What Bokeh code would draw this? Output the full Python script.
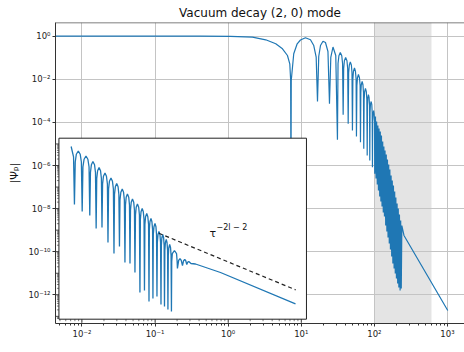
from bokeh.plotting import figure
from bokeh.models import Range1d, FixedTicker, CustomJSTickFormatter, BoxAnnotation, Span, Label
from bokeh.core.properties import value
from bokeh.embed import file_html
from bokeh.resources import INLINE

# ---- data, stored as log10 values ----
main_log10_tau = [
    -2.40, -0.379, 0.031, 0.332, 0.514, 0.651, 0.743, 0.811, 0.843, 0.855, 0.859, 0.863,
    0.897, 0.944, 0.989, 1.057, 1.126, 1.171, 1.204, 1.222,
    1.239, 1.263, 1.297, 1.331, 1.365, 1.386,
    1.404, 1.434, 1.472, 1.495,
    1.503, 1.515, 1.534, 1.554, 1.565, 1.573,
    1.580, 1.590, 1.607, 1.625, 1.635, 1.642,
    1.648, 1.657, 1.671, 1.686, 1.694, 1.700,
    1.706, 1.714, 1.728, 1.741, 1.750, 1.755,
    1.761, 1.769, 1.782, 1.796, 1.805, 1.810,
    1.815, 1.821, 1.833, 1.844, 1.851, 1.855,
    1.860, 1.867, 1.878, 1.890, 1.897, 1.902,
    1.906, 1.911, 1.919, 1.928, 1.934, 1.937,
    1.941, 1.946, 1.956, 1.965, 1.970, 1.974,
    1.977, 1.982, 1.990, 1.997, 2.002, 2.005,
    2.015,
    2.023, 2.031, 2.040, 2.048, 2.056, 2.064, 2.073, 2.081, 2.089, 2.097, 2.105, 2.114,
    2.122, 2.130, 2.138, 2.146, 2.155, 2.163, 2.171, 2.179, 2.187, 2.196, 2.204, 2.212,
    2.220, 2.229, 2.237, 2.245, 2.253, 2.261, 2.270, 2.278, 2.286, 2.294, 2.302, 2.311,
    2.319, 2.327, 2.335, 2.343, 2.352, 2.360, 2.368, 2.376,
    2.405, 3.004]
main_log10_psi = [
    0.0, 0.0, -0.005, -0.046, -0.167, -0.353, -0.585, -0.896, -1.281, -2.056, -7.624, -2.056,
    -0.817, -0.353, -0.176, -0.074, -0.167, -0.432, -0.974, -3.030,
    -0.942, -0.432, -0.232, -0.292, -0.710, -3.137,
    -0.988, -0.501, -0.896, -4.807,
    -1.266, -0.906, -0.756, -0.906, -1.266, -3.647,
    -1.498, -1.138, -0.988, -1.138, -1.498, -4.065,
    -1.707, -1.347, -1.197, -1.347, -1.707, -4.376,
    -1.986, -1.626, -1.476, -1.626, -1.986, -4.654,
    -2.287, -1.927, -1.777, -1.927, -2.287, -4.919,
    -2.612, -2.252, -2.102, -2.252, -2.612, -5.225,
    -2.937, -2.577, -2.427, -2.577, -2.937, -5.536,
    -3.215, -2.855, -2.705, -2.855, -3.215, -5.768,
    -3.540, -3.180, -3.030, -3.180, -3.540, -6.079,
    -3.958, -3.598, -3.448, -3.598, -3.958, -6.385,
    -3.726,
    -6.603, -3.958, -6.882, -4.144, -7.160, -4.283, -7.439, -4.422, -7.671, -4.608, -7.903, -4.886,
    -8.181, -5.118, -8.367, -5.304, -8.784, -5.490, -9.063, -5.722, -9.341, -5.954, -9.619, -6.186,
    -9.898, -6.464, -10.223, -6.696, -10.548, -6.928, -10.780, -7.206, -11.012, -7.485, -11.244, -7.763,
    -11.476, -7.995, -11.661, -8.274, -11.800, -8.552, -11.708, -8.784,
    -9.248, -12.728]

inset_log10_tau = [
    -2.148, -2.115, -2.103,
    -2.092, -2.077, -2.050, -2.024, -2.008, -1.997,
    -1.987, -1.971, -1.945, -1.919, -1.903, -1.893,
    -1.884, -1.871, -1.850, -1.828, -1.815, -1.806,
    -1.798, -1.786, -1.766, -1.746, -1.734, -1.726,
    -1.718, -1.706, -1.685, -1.665, -1.652, -1.644,
    -1.636, -1.624, -1.603, -1.583, -1.570, -1.562,
    -1.555, -1.543, -1.525, -1.506, -1.495, -1.487,
    -1.480, -1.468, -1.449, -1.431, -1.420, -1.412,
    -1.405, -1.395, -1.378, -1.360, -1.350, -1.343,
    -1.336, -1.326, -1.309, -1.292, -1.282, -1.275,
    -1.268, -1.258, -1.241, -1.224, -1.214, -1.207,
    -1.201, -1.192, -1.176, -1.161, -1.151, -1.145,
    -1.139, -1.130, -1.114, -1.099, -1.089, -1.083,
    -1.078, -1.070, -1.056, -1.043, -1.034, -1.029,
    -1.024, -1.015, -1.001, -0.988, -0.980, -0.974,
    -0.969, -0.960, -0.947, -0.933, -0.925, -0.919,
    -0.914, -0.907, -0.895, -0.883, -0.876, -0.871,
    -0.866, -0.859, -0.847, -0.836, -0.829, -0.824,
    -0.819, -0.812, -0.800, -0.788, -0.781, -0.776,
    -0.772, -0.764, -0.735, -0.706, -0.698, -0.694,
    -0.677, -0.659, -0.642, -0.625, -0.610, -0.594, -0.580, -0.566, -0.552, -0.539,
    -0.509, -0.447, -0.105, 0.921]
inset_log10_psi = [
    -5.118, -5.600, -7.810,
    -5.837, -5.477, -5.327, -5.477, -5.837, -8.135,
    -6.069, -5.709, -5.559, -5.709, -6.069, -8.320,
    -6.324, -5.964, -5.814, -5.964, -6.324, -8.923,
    -6.603, -6.243, -6.093, -6.243, -6.603, -8.877,
    -6.858, -6.498, -6.348, -6.498, -6.858, -9.573,
    -7.090, -6.730, -6.580, -6.730, -7.090, -10.084,
    -7.345, -6.985, -6.835, -6.985, -7.345, -9.759,
    -7.600, -7.240, -7.090, -7.240, -7.600, -10.501,
    -7.833, -7.473, -7.323, -7.473, -7.833, -10.548,
    -8.065, -7.705, -7.555, -7.705, -8.065, -10.965,
    -8.297, -7.937, -7.787, -7.937, -8.297, -11.893,
    -8.505, -8.145, -7.995, -8.145, -8.505, -11.800,
    -8.737, -8.377, -8.227, -8.377, -8.737, -12.311,
    -8.969, -8.609, -8.459, -8.609, -8.969, -12.172,
    -9.201, -8.841, -8.691, -8.841, -9.201, -12.079,
    -9.573, -9.213, -9.063, -9.213, -9.573, -12.450,
    -9.712, -9.352, -9.202, -9.352, -9.712, -12.543,
    -9.944, -9.584, -9.434, -9.584, -9.944, -12.682,
    -10.176, -9.816, -9.666, -9.816, -10.176, -12.775,
    -10.454, -10.094, -9.944, -10.094, -10.454, -10.780,
    -10.400, -10.316, -10.400, -10.640, -10.420, -10.362, -10.420, -10.594, -10.480, -10.455,
    -10.548, -10.571, -10.965, -12.418]

power_law_log10_tau = [-0.949, 0.923]
power_law_log10_psi = [-9.142, -11.77]

shade_tau = [100, 604]
x_ticks = [1e-2, 1e-1, 1e0, 1e1, 1e2, 1e3]
y_ticks = [1e-12, 1e-10, 1e-8, 1e-6, 1e-4, 1e-2, 1e0]

# inset axes box (data coordinates)
inset_tau = [0.00484, 11.78]
inset_psi = [7.38e-14, 1.85e-5]

FONT = "DejaVu Sans"
BLUE = "#1f77b4"
INK = "#222222"

def pw(v):
    return [10 ** a for a in v]

x_lo, x_hi = 4.345e-3, 1710.0
y_lo, y_hi = 4.66e-14, 4.325

p = figure(width=464, height=352, x_axis_type="log", y_axis_type="log",
           x_range=Range1d(x_lo, x_hi), y_range=Range1d(y_lo, y_hi),
           output_backend="svg", toolbar_location=None,
           min_border_left=55, min_border_right=0, min_border_top=22, min_border_bottom=29,
           title="Vacuum decay (2, 0) mode")
p.outline_line_color = None
p.background_fill_color = "white"
p.border_fill_color = "white"

p.title.text_font = FONT
p.title.text_font_size = "12px"
p.title.text_font_style = "normal"
p.title.align = "center"
p.title.text_color = "#111111"
p.title.standoff = 5

fmt = CustomJSTickFormatter(code="""
const e = Math.round(Math.log10(tick));
const sup = {'-':'\u207b','0':'\u2070','1':'\u00b9','2':'\u00b2','3':'\u00b3','4':'\u2074','5':'\u2075','6':'\u2076','7':'\u2077','8':'\u2078','9':'\u2079'};
return '10' + String(e).split('').map(c => sup[c]).join('');
""")

minor_x = [k * 10.0 ** e for e in range(-3, 4) for k in range(2, 10)]
p.xaxis.ticker = FixedTicker(ticks=x_ticks, minor_ticks=minor_x)
p.yaxis.ticker = FixedTicker(ticks=y_ticks, minor_ticks=[])
p.xgrid.ticker = FixedTicker(ticks=x_ticks)
p.ygrid.ticker = FixedTicker(ticks=y_ticks)
for ax in (p.xaxis, p.yaxis):
    ax.formatter = fmt
    ax.major_label_text_font = FONT
    ax.major_label_text_font_size = "8.5px"
    ax.major_label_text_color = INK
    ax.axis_line_color = "#333333"
    ax.axis_line_width = 1
    ax.major_tick_line_color = "#333333"
    ax.minor_tick_line_color = "#333333"
    ax.major_tick_out = 3
    ax.major_tick_in = 0
    ax.minor_tick_out = 2
    ax.minor_tick_in = 0
    ax.major_label_standoff = 2
    ax.axis_label_text_font = FONT
    ax.axis_label_text_font_style = "normal"
    ax.axis_label_text_color = "#111111"
p.yaxis.axis_label = "|Ψₚ|"
p.yaxis.axis_label_text_font_size = "11px"
p.yaxis.axis_label_standoff = 4

for g in (p.xgrid, p.ygrid):
    g.grid_line_color = "#c4c4c4"
    g.grid_line_width = 1

p.add_layout(BoxAnnotation(left=shade_tau[0], right=shade_tau[1], fill_color="#e4e4e4",
                           fill_alpha=1.0, line_color=None, level="image"))
p.add_layout(Span(location=y_hi, dimension="width", line_color="#555555", line_width=1.3))

# main curve
p.line(pw(main_log10_tau), pw(main_log10_psi), line_color=BLUE, line_width=1.2)

# inset box
p.quad(left=[inset_tau[0]], right=[inset_tau[1]], bottom=[inset_psi[0]], top=[inset_psi[1]],
       fill_color="white", line_color=INK, line_width=1)

# inset tick marks (no labels), left and bottom sides
fx_major = 10 ** (3.5 / 73.1)
fx_minor = 10 ** (2.0 / 73.1)
fy_major = 10 ** (3.5 / 21.55)
fy_minor = 10 ** (2.0 / 21.55)
ly_major = [10.0 ** e for e in range(-13, -4)]
ly_minor = [k * 10.0 ** e for e in range(-14, -4) for k in range(2, 10)
            if inset_psi[0] < k * 10.0 ** e < inset_psi[1]]
bx_major = [1e-2, 1e-1, 1e0, 1e1]
bx_minor = [k * 10.0 ** e for e in range(-3, 2) for k in range(2, 10)
            if inset_tau[0] < k * 10.0 ** e < inset_tau[1]]
x0 = inset_tau[0]
y0 = inset_psi[0]
p.segment(x0=[x0] * len(ly_major), y0=ly_major, x1=[x0 / fx_major] * len(ly_major), y1=ly_major,
          line_color=INK, line_width=0.8)
p.segment(x0=[x0] * len(ly_minor), y0=ly_minor, x1=[x0 / fx_minor] * len(ly_minor), y1=ly_minor,
          line_color=INK, line_width=0.6)
p.segment(x0=bx_major, y0=[y0] * len(bx_major), x1=bx_major, y1=[y0 / fy_major] * len(bx_major),
          line_color=INK, line_width=0.8)
p.segment(x0=bx_minor, y0=[y0] * len(bx_minor), x1=bx_minor, y1=[y0 / fy_minor] * len(bx_minor),
          line_color=INK, line_width=0.6)

# inset curve and power law
p.line(pw(inset_log10_tau), pw(inset_log10_psi), line_color=BLUE, line_width=1.3)
p.line(pw(power_law_log10_tau), pw(power_law_log10_psi), line_color=INK, line_width=1.2,
       line_dash="4 3")

p.text(x=[0.555], y=[7.0e-10], text=["τ"], text_font=value(FONT), text_font_size="11px",
       text_align="left", text_baseline="middle", text_color="#111111")
p.text(x=[0.692], y=[1.26e-9], text=["−2l − 2"], text_font=value(FONT), text_font_size="8px",
       text_align="left", text_baseline="middle", text_color="#111111")

# x-axis label drawn as a label below the frame
p.add_layout(Label(x=2.597, y=4.58e-15, text="τ", text_font=FONT, text_font_size="12px",
                   text_align="center", text_baseline="middle", text_color="#111111"))

open("out.html", "w").write(file_html(p, INLINE))
